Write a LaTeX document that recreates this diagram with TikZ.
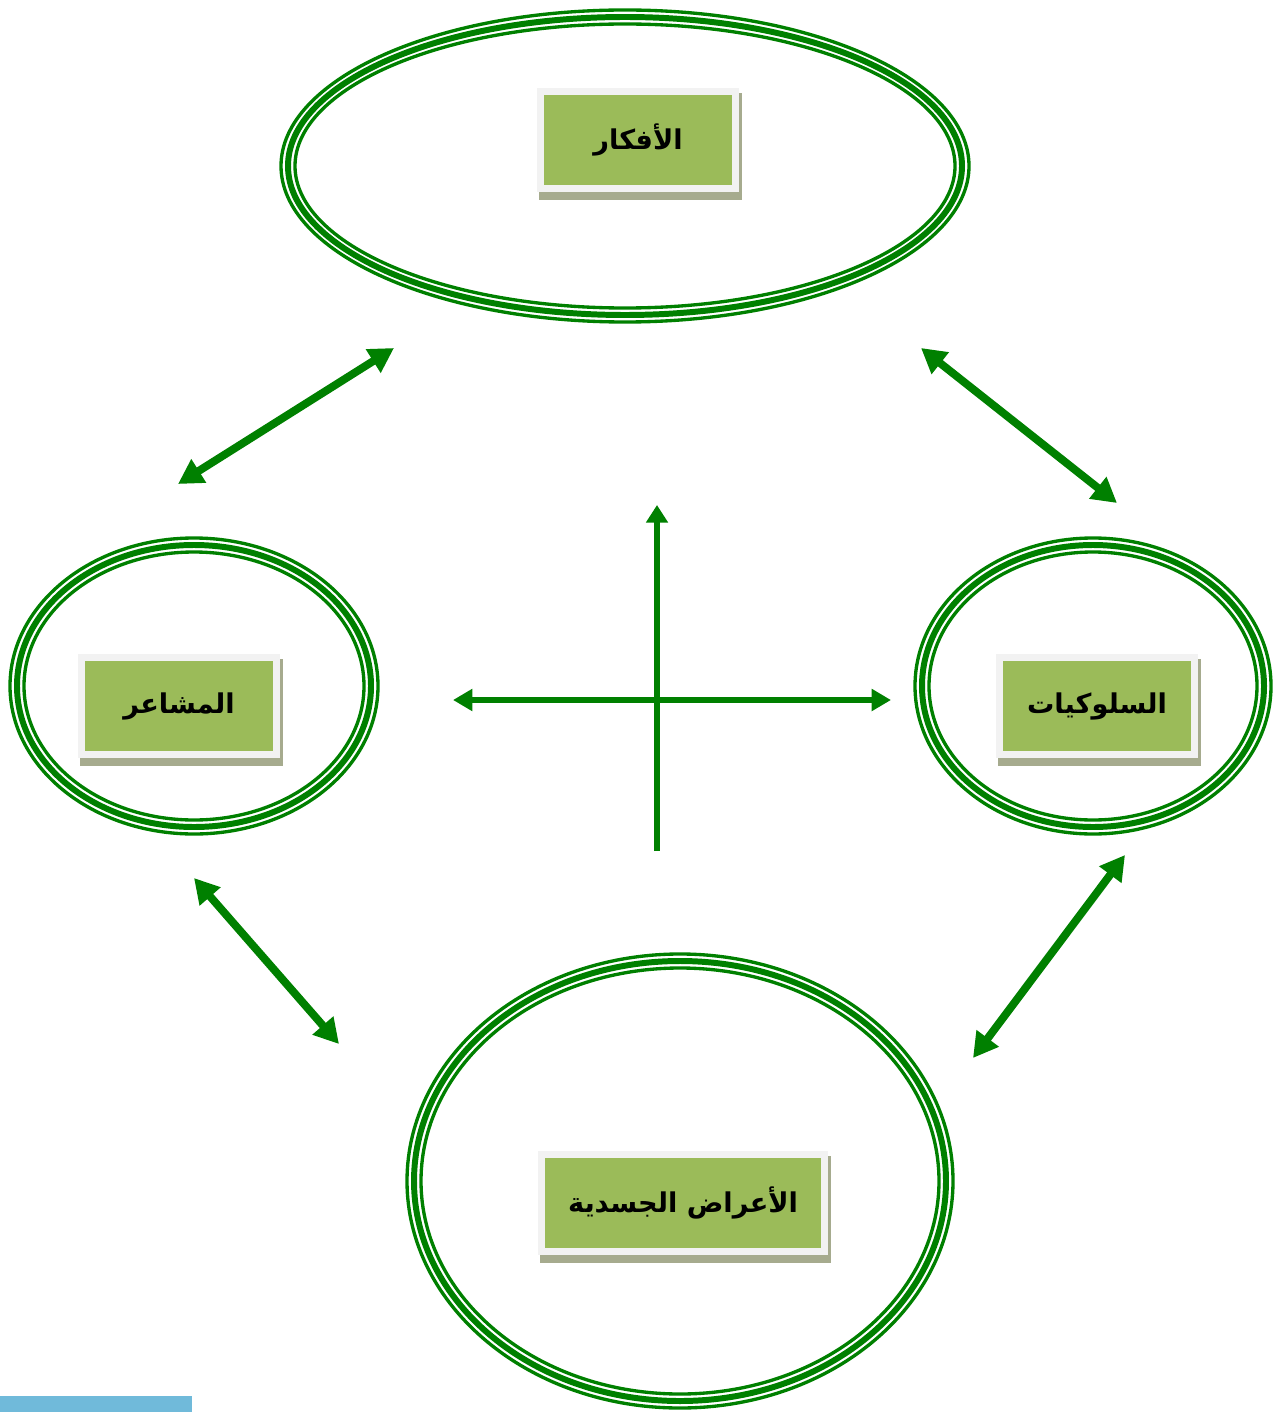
\documentclass[tikz,border=0pt]{standalone}
\usepackage{fontspec}
\usepackage{tikz}
\usetikzlibrary{arrows.meta}
\newfontfamily\arabicfont[Script=Arabic]{DejaVu Sans}
\TeXXeTstate=1
\definecolor{G}{RGB}{0,128,0}
\definecolor{B}{RGB}{155,187,89}
\definecolor{E}{RGB}{242,242,242}
\definecolor{S}{RGB}{166,171,142}
\definecolor{C}{RGB}{112,186,218}
\tikzset{
  labelbox/.style={rectangle, fill=B, draw=E, line width=4pt, inner sep=0pt,
    minimum height=1.94cm, font=\arabicfont\bfseries\fontsize{15.5}{18}\selectfont},
  twoway/.style={color=G, line width=4.5pt,
    {Triangle[length=14pt,width=15pt]}-{Triangle[length=14pt,width=15pt]}},
  crossline/.style={color=G, line width=3.6pt}
}
\newcommand{\tripleoval}[5]{
\coordinate (#1) at (#2,#3);
\draw[color=G,line width=1.9pt] (#1) ellipse [x radius=#4, y radius=#5];
\draw[color=G,line width=3.4pt] (#1) ellipse [x radius=#4-7, y radius=#5-7];
\draw[color=G,line width=1.9pt] (#1) ellipse [x radius=#4-14, y radius=#5-14];
}
\newcommand{\labelbox}[5]{
\fill[S] (#2-#4/2+2,#3-47) rectangle (#2+#4/2+3,#3+60);
\node[labelbox, minimum width={(#4-7)*0.02cm}] (#1) at (#2,#3) {#5};
}

\begin{document}
\begin{tikzpicture}[x=0.02cm, y=-0.02cm]
\useasboundingbox (0,0) rectangle (1274,1412);
\tripleoval{ideas}{625}{166}{344}{156}
\tripleoval{feelings}{194}{686}{184}{148}
\tripleoval{acts}{1093}{686}{178}{148}
\tripleoval{body}{680}{1181}{273}{227}
\labelbox{ideasbox}{638}{140}{202}{\beginR الأفكار\endR}
\labelbox{feelingsbox}{179}{706}{202}{\beginR المشاعر\endR}
\labelbox{actsbox}{1097}{706}{202}{\beginR السلوكيات\endR}
\labelbox{bodybox}{683}{1203}{290}{\beginR الأعراض الجسدية\endR}
% arrows between the ovals
\coordinate (a1) at (178,484); \coordinate (a2) at (394,348);
\coordinate (b1) at (921,348); \coordinate (b2) at (1117,503);
\coordinate (c1) at (194,878); \coordinate (c2) at (339,1044);
\coordinate (d1) at (1125,855); \coordinate (d2) at (973,1058);
\draw[twoway] (a1)--(a2);
\draw[twoway] (b1)--(b2);
\draw[twoway] (c1)--(c2);
\draw[twoway] (d1)--(d2);
% cross in the middle
\coordinate (cb) at (657,851); \coordinate (ct) at (657,505);
\coordinate (cl) at (453,700); \coordinate (cr) at (891,700);
\draw[crossline, -{Triangle[length=10pt,width=12pt]}] (cb)--(ct);
\draw[crossline, {Triangle[length=11pt,width=12pt]}-{Triangle[length=11pt,width=12pt]}] (cl)--(cr);
\fill[C] (0,1396) rectangle (192,1412);
\end{tikzpicture}
\end{document}
